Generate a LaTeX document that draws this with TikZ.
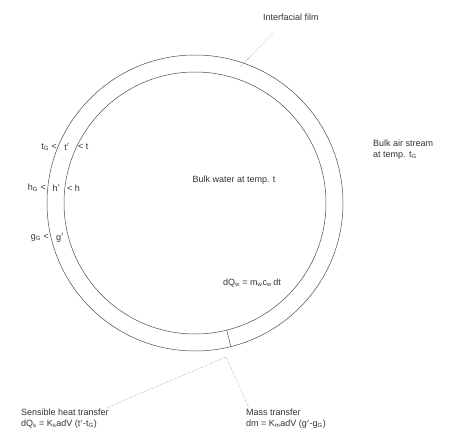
\documentclass[tikz,border=0pt]{standalone}
\usepackage{fontspec}
\setmainfont{Liberation Sans}
\usepackage{tikz}
\newcommand{\sub}[1]{\textsubscript{#1}}

\begin{document}
\begin{tikzpicture}[x=1pt,y=1pt,
  lbl/.style={font=\small,text=black!80,inner sep=1pt},
  film/.style={black!70,line width=0.5pt},
  leader/.style={black!55,densely dotted,line width=0.4pt}]
  \useasboundingbox (0,0) rectangle (468,437);
  \coordinate (c) at (195,234);
  % drop and interfacial film
  \draw[film] (c) circle (148);
  \draw[film] (c) circle (131);
  \draw[film] ([shift={(-76:131)}]c) -- ([shift={(-76:148)}]c);
  % labels
  \node[lbl,anchor=west] (filmlbl) at (262,420) {Interfacial film};
  \coordinate (filmpt) at (240,370);
  \draw[leader] (273,404) -- (filmpt);
  \node[lbl,anchor=west,align=left] (airlbl) at (372,287) {Bulk air stream\\ at temp. t\sub{G}};
  \node[lbl] (water) at (234,257) {Bulk water at temp. t};
  \node[lbl] (dqw) at (252,154) {dQ\sub{w} = m\sub{w}c\sub{w}\,dt};
  % temperature, enthalpy and humidity across the film
  \node[lbl,anchor=east] (tG) at (58,290) {t\sub{G} <};
  \node[lbl] (ti) at (67,290) {t$'$};
  \node[lbl,anchor=west] (tw) at (77,290) {< t};
  \node[lbl,anchor=east] (hG) at (47,249) {h\sub{G} <};
  \node[lbl] (hi) at (56.5,249) {h$'$};
  \node[lbl,anchor=west] (hw) at (66,249) {< h};
  \node[lbl,anchor=east] (gG) at (50,199) {g\sub{G} <};
  \node[lbl] (gi) at (60,199) {g$'$};
  % transfer rates
  \node[lbl,anchor=west,align=left] (sens) at (20,18) {Sensible heat transfer\\ dQ\sub{s} = K\sub{s}adV (t$'$-t\sub{G})};
  \node[lbl,anchor=west,align=left] (mass) at (245,18) {Mass transfer\\ dm = K\sub{m}adV (g$'$-g\sub{G})};
  \coordinate (fork) at (226,80);
  \draw[leader] (fork) -- ([xshift=-4pt]sens.north east);
  \draw[leader] (fork) -- ([xshift=4pt]mass.north west);
\end{tikzpicture}
\end{document}
